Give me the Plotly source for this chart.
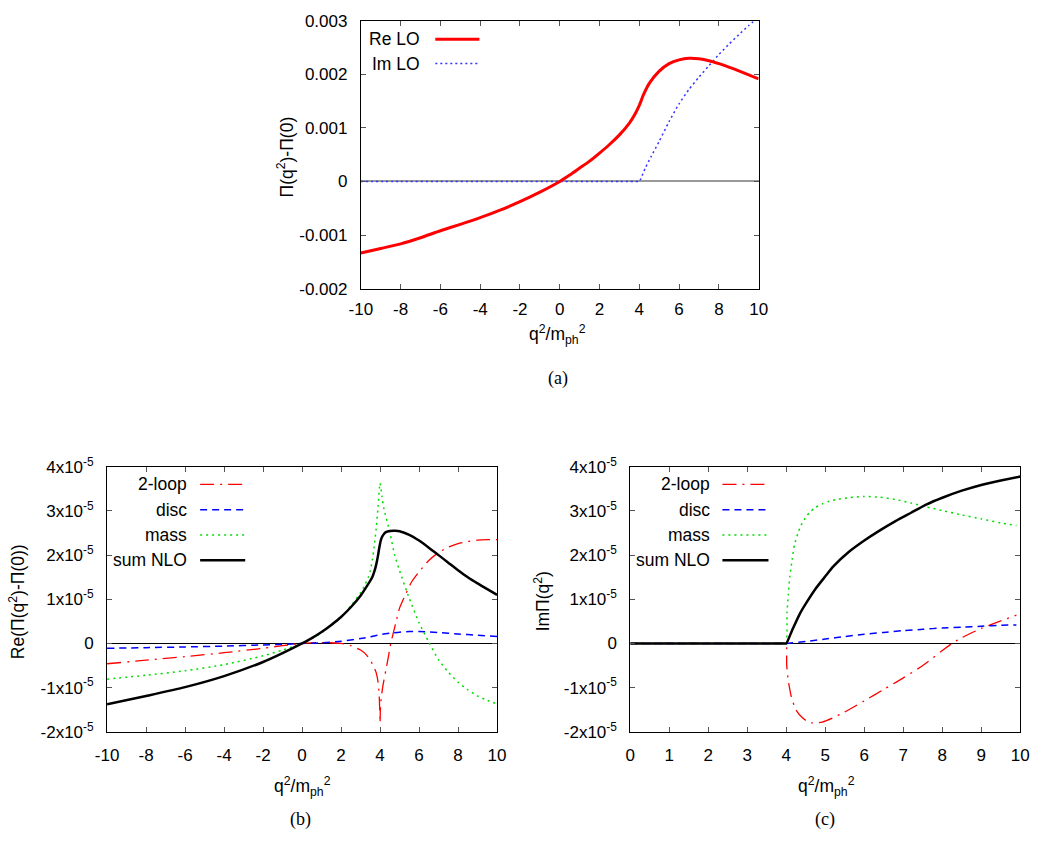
import numpy as np
import plotly.graph_objects as go

W, H = 1044, 844

# ---------------- panel (a) data (units of 1e-3) ----------------
re_lo_x = [-10, -9, -8, -7, -6, -5, -4, -3, -2, -1, 0, 0.5, 1, 1.5, 2, 2.5, 3, 3.5, 3.8, 4.0,
           4.2, 4.5, 5, 5.5, 6, 6.5, 7, 7.5, 8, 8.5, 9, 9.5, 10]
re_lo = [-1.335, -1.25, -1.165, -1.05, -0.92, -0.80, -0.675, -0.535, -0.378, -0.20, 0, 0.12, 0.25,
         0.38, 0.53, 0.69, 0.87, 1.09, 1.27, 1.42, 1.61, 1.83, 2.06, 2.20, 2.27, 2.30, 2.29, 2.255,
         2.20, 2.135, 2.065, 1.99, 1.915]
im_lo_x = [-10, -8, -6, -4, -2, 0, 2, 3, 3.5, 3.8, 3.95, 4.0, 4.3, 4.6, 5.0, 5.5, 6.0, 6.5, 7.0,
           7.5, 8.0, 8.5, 9.0, 9.5, 10]
im_lo = [0, 0, 0, 0, 0, 0, 0, 0, 0, 0, 0, 0, 0.25, 0.47, 0.75, 1.12, 1.45, 1.72, 1.95, 2.16, 2.37,
         2.56, 2.74, 2.91, 3.07]

# ---------------- panel (b) data (units of 1e-5) ----------------
two_loop_re_x = [-10, -8, -6, -4, -2, -1, 0, 1, 2, 2.5, 3.0, 3.3, 3.5, 3.7, 3.8, 3.9, 3.95, 3.98, 4.0,
                 4.02, 4.07, 4.15, 4.3, 4.45, 4.55, 4.8, 5.0, 5.3, 5.6, 6.0, 6.5, 7.0, 7.5, 8.0, 8.5,
                 9.0, 9.5, 10]
two_loop_re = [-0.46, -0.38, -0.30, -0.21, -0.11, -0.05, 0, 0.02, 0.0, -0.05, -0.15, -0.26, -0.38,
               -0.55, -0.66, -0.88, -1.12, -1.45, -1.8, -1.45, -1.2, -0.95, -0.6, -0.25, 0.0, 0.45,
               0.8, 1.1, 1.38, 1.62, 1.88, 2.06, 2.18, 2.26, 2.31, 2.34, 2.35, 2.35]
disc_re_x = [-10, -8, -6, -4, -2, -1, 0, 1, 2, 3, 3.5, 4, 4.5, 5, 5.5, 6, 6.5, 7, 8, 9, 10]
disc_re = [-0.11, -0.095, -0.08, -0.06, -0.035, -0.02, 0, 0.015, 0.05, 0.11, 0.15, 0.2, 0.23, 0.255,
           0.27, 0.27, 0.26, 0.245, 0.215, 0.185, 0.155]
mass_re_x = [-10, -8, -6, -4, -2, -1, 0, 1, 2, 2.5, 3.0, 3.2, 3.4, 3.5, 3.6, 3.7, 3.8, 3.9, 4.0,
             4.1, 4.2, 4.5, 4.75, 5.0, 5.5, 6.0, 6.5, 7.0, 7.5, 8.0, 8.5, 9.0, 9.5, 10]
mass_re = [-0.81, -0.72, -0.62, -0.48, -0.28, -0.15, 0, 0.24, 0.6, 0.85, 1.15, 1.3, 1.5, 1.65, 1.88,
           2.2, 2.6, 3.1, 3.63, 3.32, 3.05, 2.52, 2.0, 1.65, 1.02, 0.47, 0.03, -0.37, -0.65, -0.88,
           -1.05, -1.19, -1.29, -1.37]
sum_re_x = [-10, -8, -6, -4, -2, -1, 0, 0.5, 1, 1.5, 2, 2.5, 3, 3.3, 3.6, 3.7, 3.8, 3.9, 3.95, 4.0,
            4.05, 4.1, 4.2, 4.3, 4.5, 4.8, 5.0, 5.5, 6.0, 6.5, 7.0, 7.5, 8.0, 8.5, 9.0, 9.5, 10]
sum_re = [-1.38, -1.19, -0.99, -0.74, -0.42, -0.22, 0, 0.12, 0.26, 0.42, 0.6, 0.82, 1.08, 1.28, 1.50,
          1.62, 1.78, 2.0, 2.14, 2.26, 2.35, 2.41, 2.48, 2.52, 2.545, 2.55, 2.54, 2.46, 2.33, 2.17,
          2.0, 1.83, 1.66, 1.50, 1.36, 1.23, 1.10]

# ---------------- panel (c) data (units of 1e-5) ----------------
two_loop_im_x = [0, 1, 2, 3, 3.5, 3.9, 3.97, 4.0, 4.01, 4.05, 4.13, 4.25, 4.42, 4.55, 4.67, 4.8,
                 4.92, 5.18, 5.5, 6.0, 6.5, 7.0, 7.5, 8.0, 8.25, 8.5, 9.0, 9.5, 9.9]
two_loop_im = [0, 0, 0, 0, 0, 0, 0, 0, -0.48, -0.84, -1.21, -1.51, -1.69, -1.77, -1.80, -1.80,
               -1.78, -1.69, -1.55, -1.30, -1.04, -0.78, -0.50, -0.16, 0.0, 0.13, 0.34, 0.51, 0.64]
disc_im_x = [0, 1, 2, 3, 3.5, 3.9, 4.0, 4.5, 5.0, 5.5, 6.0, 6.5, 7.0, 7.5, 8.0, 8.5, 9.0, 9.5, 9.9]
disc_im = [0, 0, 0, 0, 0, 0, 0, 0.045, 0.1, 0.155, 0.21, 0.25, 0.29, 0.32, 0.35, 0.37, 0.39, 0.41,
           0.42]
mass_im_x = [0, 1, 2, 3, 3.5, 3.9, 3.97, 4.0, 4.02, 4.05, 4.09, 4.15, 4.21, 4.3, 4.38, 4.5, 4.6,
             4.75, 4.92, 5.1, 5.3, 5.6, 6.0, 6.4, 6.8, 7.2, 7.6, 8.0, 8.5, 9.0, 9.5, 9.9]
mass_im = [0, 0, 0, 0, 0, 0, 0, 0, 0.7, 1.1, 1.51, 1.9, 2.24, 2.5, 2.68, 2.86, 2.97, 3.08, 3.16,
           3.22, 3.26, 3.30, 3.33, 3.31, 3.26, 3.18, 3.09, 3.01, 2.91, 2.82, 2.73, 2.67]
sum_im_x = [0, 1, 2, 3, 3.5, 3.9, 3.97, 4.0, 4.15, 4.34, 4.5, 4.76, 5.0, 5.2, 5.6, 6.0, 6.4, 6.8,
            7.2, 7.6, 8.0, 8.5, 9.0, 9.5, 10]
sum_im = [0, 0, 0, 0, 0, 0, 0, 0, 0.3, 0.66, 0.9, 1.25, 1.52, 1.74, 2.07, 2.33, 2.56, 2.77, 2.96,
          3.15, 3.3, 3.46, 3.59, 3.69, 3.78]

# ---------------- ticks ----------------
a_yticks = [-0.002, -0.001, 0, 0.001, 0.002, 0.003]
a_ytext = ["-0.002", "-0.001", "0", "0.001", "0.002", "0.003"]
bc_yticks = [-2e-5, -1e-5, 0, 1e-5, 2e-5, 3e-5, 4e-5]
bc_ytext = ["-2x10<sup>-5</sup>", "-1x10<sup>-5</sup>", "0", "1x10<sup>-5</sup>",
            "2x10<sup>-5</sup>", "3x10<sup>-5</sup>", "4x10<sup>-5</sup>"]
ab_xticks = [-10, -8, -6, -4, -2, 0, 2, 4, 6, 8, 10]
ab_xtext = ["-10", "-8", "-6", "-4", "-2", "0", "2", "4", "6", "8", "10"]
c_xticks = [0, 1, 2, 3, 4, 5, 6, 7, 8, 9, 10]
c_xtext = ["0", "1", "2", "3", "4", "5", "6", "7", "8", "9", "10"]

RED = "#ff0000"
BLUE = "#0000ff"
GREEN = "#00dd00"
DASH_2LOOP = "14px,6px,2px,6px"
DASH_DISC = "7px,5px"
DASH_MASS = "2px,4px"
DASH_IM = "2px,3px"

FONT = "Liberation Sans, Arial, sans-serif"
SERIF = "Liberation Serif, DejaVu Serif, serif"


def px(x):
    return x / W


def py(y):
    return 1 - y / H


fig = go.Figure()


def line(x, y, xa, ya, color, width, dash="solid", scale=1.0):
    fig.add_trace(go.Scatter(
        x=x, y=np.array(y) * scale, xaxis=xa, yaxis=ya, mode="lines",
        line=dict(color=color, width=width, dash=dash, shape="spline", smoothing=0.6),
        showlegend=False, hoverinfo="skip"))


# panel (a)
line(im_lo_x, im_lo, "x", "y", "#3333ff", 1.5, DASH_IM, 1e-3)
line(re_lo_x, re_lo, "x", "y", RED, 3, "solid", 1e-3)
# panel (b)
line(two_loop_re_x, two_loop_re, "x2", "y2", RED, 1.3, DASH_2LOOP, 1e-5)
line(disc_re_x, disc_re, "x2", "y2", BLUE, 1.5, DASH_DISC, 1e-5)
line(mass_re_x, mass_re, "x2", "y2", GREEN, 1.5, DASH_MASS, 1e-5)
line(sum_re_x, sum_re, "x2", "y2", "#000000", 2.5, "solid", 1e-5)
# panel (c)
line(two_loop_im_x, two_loop_im, "x3", "y3", RED, 1.3, DASH_2LOOP, 1e-5)
line(disc_im_x, disc_im, "x3", "y3", BLUE, 1.5, DASH_DISC, 1e-5)
line(mass_im_x, mass_im, "x3", "y3", GREEN, 1.5, DASH_MASS, 1e-5)
line(sum_im_x, sum_im, "x3", "y3", "#000000", 2.5, "solid", 1e-5)

tickfont = dict(family=FONT, size=17, color="black")
common = dict(showgrid=False, showline=True, linecolor="black", linewidth=1, mirror="allticks",
              ticks="inside", ticklen=5, tickwidth=1, tickcolor="#555555", tickfont=tickfont)

# pixel boxes
A = (356, 762, 9, 284)
B = (97, 495, 467, 739)
C = (631, 1029, 467, 739)


def dom(box):
    l, r, t, b = box
    return [px(l), px(r)], [py(b), py(t)]


ax, ay = dom(A)
bx, by = dom(B)
cx, cy = dom(C)

fig.update_layout(
    width=W, height=H, margin=dict(l=0, r=0, t=0, b=0, pad=0),
    paper_bgcolor="white", plot_bgcolor="white", showlegend=False,
    xaxis=dict(domain=ax, anchor="y", range=[-10, 10], tickvals=ab_xticks, ticktext=ab_xtext,
               zeroline=False, ticklabelstandoff=5, **common),
    yaxis=dict(domain=ay, anchor="x", range=[-0.002, 0.003], tickvals=a_yticks, ticktext=a_ytext,
               zeroline=True, zerolinecolor="#999999", zerolinewidth=2, ticklabelstandoff=9,
               **common),
    xaxis2=dict(domain=bx, anchor="y2", range=[-10, 10], tickvals=ab_xticks, ticktext=ab_xtext,
                zeroline=False, ticklabelstandoff=8, **common),
    yaxis2=dict(domain=by, anchor="x2", range=[-2e-5, 4e-5], tickvals=bc_yticks, ticktext=bc_ytext,
                zeroline=True, zerolinecolor="black", zerolinewidth=1, ticklabelstandoff=9,
                **common),
    xaxis3=dict(domain=cx, anchor="y3", range=[0, 10], tickvals=c_xticks, ticktext=c_xtext,
                zeroline=False, ticklabelstandoff=8, **common),
    yaxis3=dict(domain=cy, anchor="x3", range=[-2e-5, 4e-5], tickvals=bc_yticks, ticktext=bc_ytext,
                zeroline=True, zerolinecolor="black", zerolinewidth=1, ticklabelstandoff=9,
                **common),
)

annotations = []
shapes = []


def text(x, y, s, angle=0, xanchor="center", font=FONT, size=17.5):
    annotations.append(dict(x=px(x), y=py(y), xref="paper", yref="paper", text=s, showarrow=False,
                            textangle=angle, xanchor=xanchor, yanchor="middle",
                            font=dict(family=font, size=size, color="black")))


def sample(x0, x1, y, color, width, dash):
    shapes.append(dict(type="line", xref="paper", yref="paper", x0=px(x0), x1=px(x1), y0=py(y),
                       y1=py(y), line=dict(color=color, width=width, dash=dash)))


# axis titles
XT = "q<sup>2</sup>/m<sub>ph</sub><sup>2</sup>"
text(279, 149, "Π(q<sup>2</sup>)-Π(0)", angle=-90)
text(557, 331, XT)
text(5, 605, "Re(Π(q<sup>2</sup>)-Π(0))", angle=-90)
text(296, 795, XT)
text(541, 605, "ImΠ(q<sup>2</sup>)", angle=-90)
text(831, 795, XT)

# captions
text(557, 376, "(a)", font=SERIF, size=18)
text(294, 829, "(b)", font=SERIF, size=18)
text(830, 829, "(c)", font=SERIF, size=18)

# legend (a)
text(418, 28, "Re LO", xanchor="right")
sample(432, 477, 28, RED, 3, "solid")
text(418, 53, "Im LO", xanchor="right")
sample(432, 477, 53, "#3333ff", 1.5, DASH_IM)

# legends (b), (c)
labels = ["2-loop", "disc", "mass", "sum NLO"]
styles = [(RED, 1.3, DASH_2LOOP), (BLUE, 1.5, DASH_DISC), (GREEN, 1.5, DASH_MASS),
          ("#000000", 2.5, "solid")]
rows = [485, 511, 537, 563]
for (tx, s0, s1) in [(181, 192, 238), (714, 725, 772)]:
    for lab, (col, w, d), yy in zip(labels, styles, rows):
        text(tx, yy, lab, xanchor="right")
        sample(s0, s1, yy, col, w, d)

fig.update_layout(annotations=annotations, shapes=shapes)
fig.write_html("out.html")
